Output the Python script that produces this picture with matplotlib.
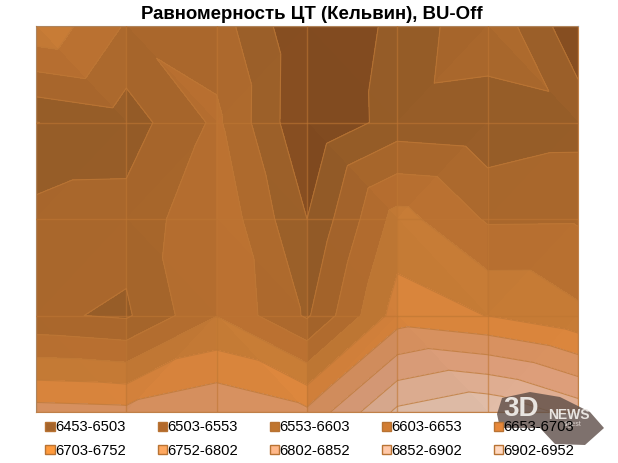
import numpy as np
import matplotlib
matplotlib.use('Agg')
import matplotlib.pyplot as plt
import matplotlib.tri as mtri
from matplotlib.colors import to_rgb
from matplotlib.patches import Patch, Polygon

plt.rcParams['font.family'] = ['Liberation Sans', 'DejaVu Sans']

# Kelvin values, rows top to bottom
row_1 = [6693, 6598, 6578, 6458, 6515, 6595, 6466]
row_2 = [6502, 6528, 6613, 6456, 6524, 6514, 6533]
row_3 = [6570, 6571, 6643, 6503, 6673, 6597, 6598]
row_4 = [6561, 6546, 6651, 6546, 6726, 6702, 6663]
row_5 = [6773, 6767, 6796, 6763, 6913, 6948, 6883]

levels = [6453, 6503, 6553, 6603, 6653, 6703, 6752, 6802, 6852, 6902, 6952]
band_labels = ['6453-6503', '6503-6553', '6553-6603', '6603-6653', '6653-6703',
               '6703-6752', '6752-6802', '6802-6852', '6852-6902', '6902-6952']
surface_colors = ['#834C20', '#975D28', '#A9672C', '#B76F30', '#C47A35',
                  '#D8843C', '#D6905F', '#DA9C78', '#DDAC90', '#DFBBA6']
legend_colors = ['#A5642B', '#B3692B', '#C0752F', '#D27D33', '#E8883A',
                 '#FF9A3C', '#FFA860', '#FFB88A', '#FFC8A8', '#FFD8C0']

z = np.array([row_1, row_2, row_3, row_4, row_5], dtype=float)
nrows, ncols = z.shape
xx, yy = np.meshgrid(np.arange(ncols), np.arange(nrows))
xs, ys, zs = xx.ravel(), yy.ravel(), z.ravel()

# each cell splits along the diagonal with the larger sum, like the Excel surface
triangles = []
for r in range(nrows - 1):
    for c in range(ncols - 1):
        tl, tr = r * ncols + c, r * ncols + c + 1
        bl, br = tl + ncols, tr + ncols
        if zs[tl] + zs[br] >= zs[tr] + zs[bl]:
            triangles += [[tl, tr, br], [tl, br, bl]]
        else:
            triangles += [[tl, tr, bl], [tr, br, bl]]
tri = mtri.Triangulation(xs, ys, triangles)

fig = plt.figure(figsize=(6.18, 4.63), dpi=100)
ax = fig.add_axes([36 / 618, 1 - 412 / 463, 542 / 618, 386 / 463])

# base layer so no seams show between the facets
ax.tricontourf(tri, zs, levels=levels, colors=surface_colors)

# facet lighting: surfaces falling to the right come out lighter
for t in triangles:
    a = np.column_stack([xs[t], ys[t], np.ones(3)])
    dzdx = np.linalg.solve(a, zs[t])[0] / 50
    shade = np.clip(1 - 0.01 * dzdx, 0.95, 1.06)
    facet_colors = [tuple(np.clip(np.array(to_rgb(col)) * shade, 0, 1)) for col in surface_colors]
    one = mtri.Triangulation(xs[t], ys[t], [[0, 1, 2]])
    ax.tricontourf(one, zs[t], levels=levels, colors=facet_colors)

ax.tricontour(tri, zs, levels=levels[1:-1], colors='#BE7836', linewidths=0.8, alpha=0.75)
ax.set_ylim(4, 0)
ax.set_xlim(0, 6)
ax.set_xticks(range(7))
ax.set_yticks(range(5))
ax.tick_params(length=0, labelbottom=False, labelleft=False)
ax.set_axisbelow(False)
ax.grid(True, color='#BE7633', linewidth=1.0, alpha=0.6)
for side in ['top', 'left']:
    ax.spines[side].set_color('#9A9A9A')
for side in ['bottom', 'right']:
    ax.spines[side].set_color('#C08048')

fig.text(312 / 618, 1 - 14.5 / 463, 'Равномерность ЦТ (Кельвин), BU-Off',
         ha='center', va='center', fontsize=13.4, fontweight='bold')

# legend fills column by column, the reference reads row by row
handles = []
for i in range(5):
    handles.append(Patch(facecolor=legend_colors[i], edgecolor='#B87333', label=band_labels[i]))
    handles.append(Patch(facecolor=legend_colors[i + 5], edgecolor='#B87333', label=band_labels[i + 5]))
fig.legend(handles=handles, ncol=5, frameon=False, fontsize=10.6,
           loc='lower left', bbox_to_anchor=(41 / 618, 1 / 463),
           handlelength=0.62, handleheight=0.62, handletextpad=0.05,
           columnspacing=2.14, labelspacing=0.62, borderpad=0.3, borderaxespad=0)

# 3DNews watermark, pixel coordinates
wm = fig.add_axes([0, 0, 1, 1], facecolor='none')
wm.set_xlim(0, 618)
wm.set_ylim(463, 0)
wm.axis('off')
wm.add_patch(Polygon([(497, 414), (502, 398), (530, 392), (560, 397), (590, 412), (604, 428),
                      (585, 445), (555, 444), (540, 428), (500, 428)],
                     closed=True, facecolor='#5E4E48', edgecolor='none', alpha=0.8))
wm.text(503, 409, '3D', color='#E8E4E0', fontsize=20, fontweight='bold', va='center')
wm.text(548, 415, 'NEWS', color='#E8E4E0', fontsize=10, fontweight='bold', va='center')
wm.text(563, 424, 'digest', color='#D8D0CC', fontsize=5, va='center')

fig.savefig('out.png', dpi=100)
